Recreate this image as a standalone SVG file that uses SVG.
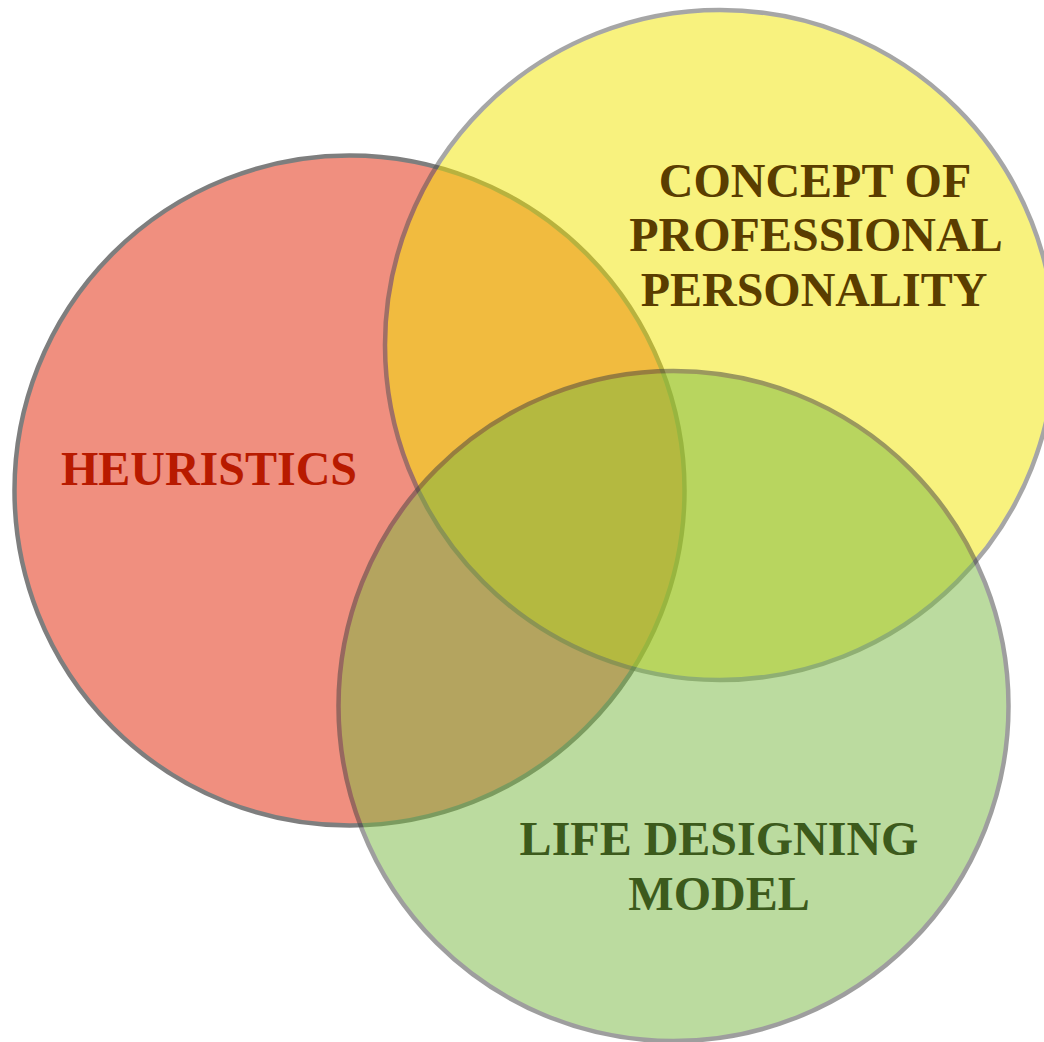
<svg xmlns="http://www.w3.org/2000/svg" width="1044" height="1042" viewBox="0 0 1044 1042">
<style>
.c{opacity:0.5;stroke-width:4.5}
.t{font-family:"Liberation Serif","Times New Roman",serif;font-weight:bold;font-size:48px;text-anchor:middle}
</style>
<rect width="1044" height="1042" fill="#ffffff"/>
<g id="heuristics">
<circle class="c" cx="349.5" cy="490.5" r="335" fill="#E32101" stroke="#000000"/>
</g>
<g id="concept">
<circle class="c" cx="720" cy="345" r="335" fill="#F3E700" stroke="#505050"/>
</g>
<g id="life">
<circle class="c" cx="673.5" cy="706" r="335" fill="#79B941" stroke="#404040"/>
</g>
<g id="labels">
<text class="t" x="209" y="485" fill="#B81A00">HEURISTICS</text>
<text class="t" x="815" y="197" fill="#5A3D00">CONCEPT OF</text>
<text class="t" x="816" y="251" fill="#5A3D00">PROFESSIONAL</text>
<text class="t" x="814" y="306" fill="#5A3D00">PERSONALITY</text>
<text class="t" x="719" y="855" fill="#3C5A1C">LIFE DESIGNING</text>
<text class="t" x="719" y="910" fill="#3C5A1C">MODEL</text>
</g>
</svg>
